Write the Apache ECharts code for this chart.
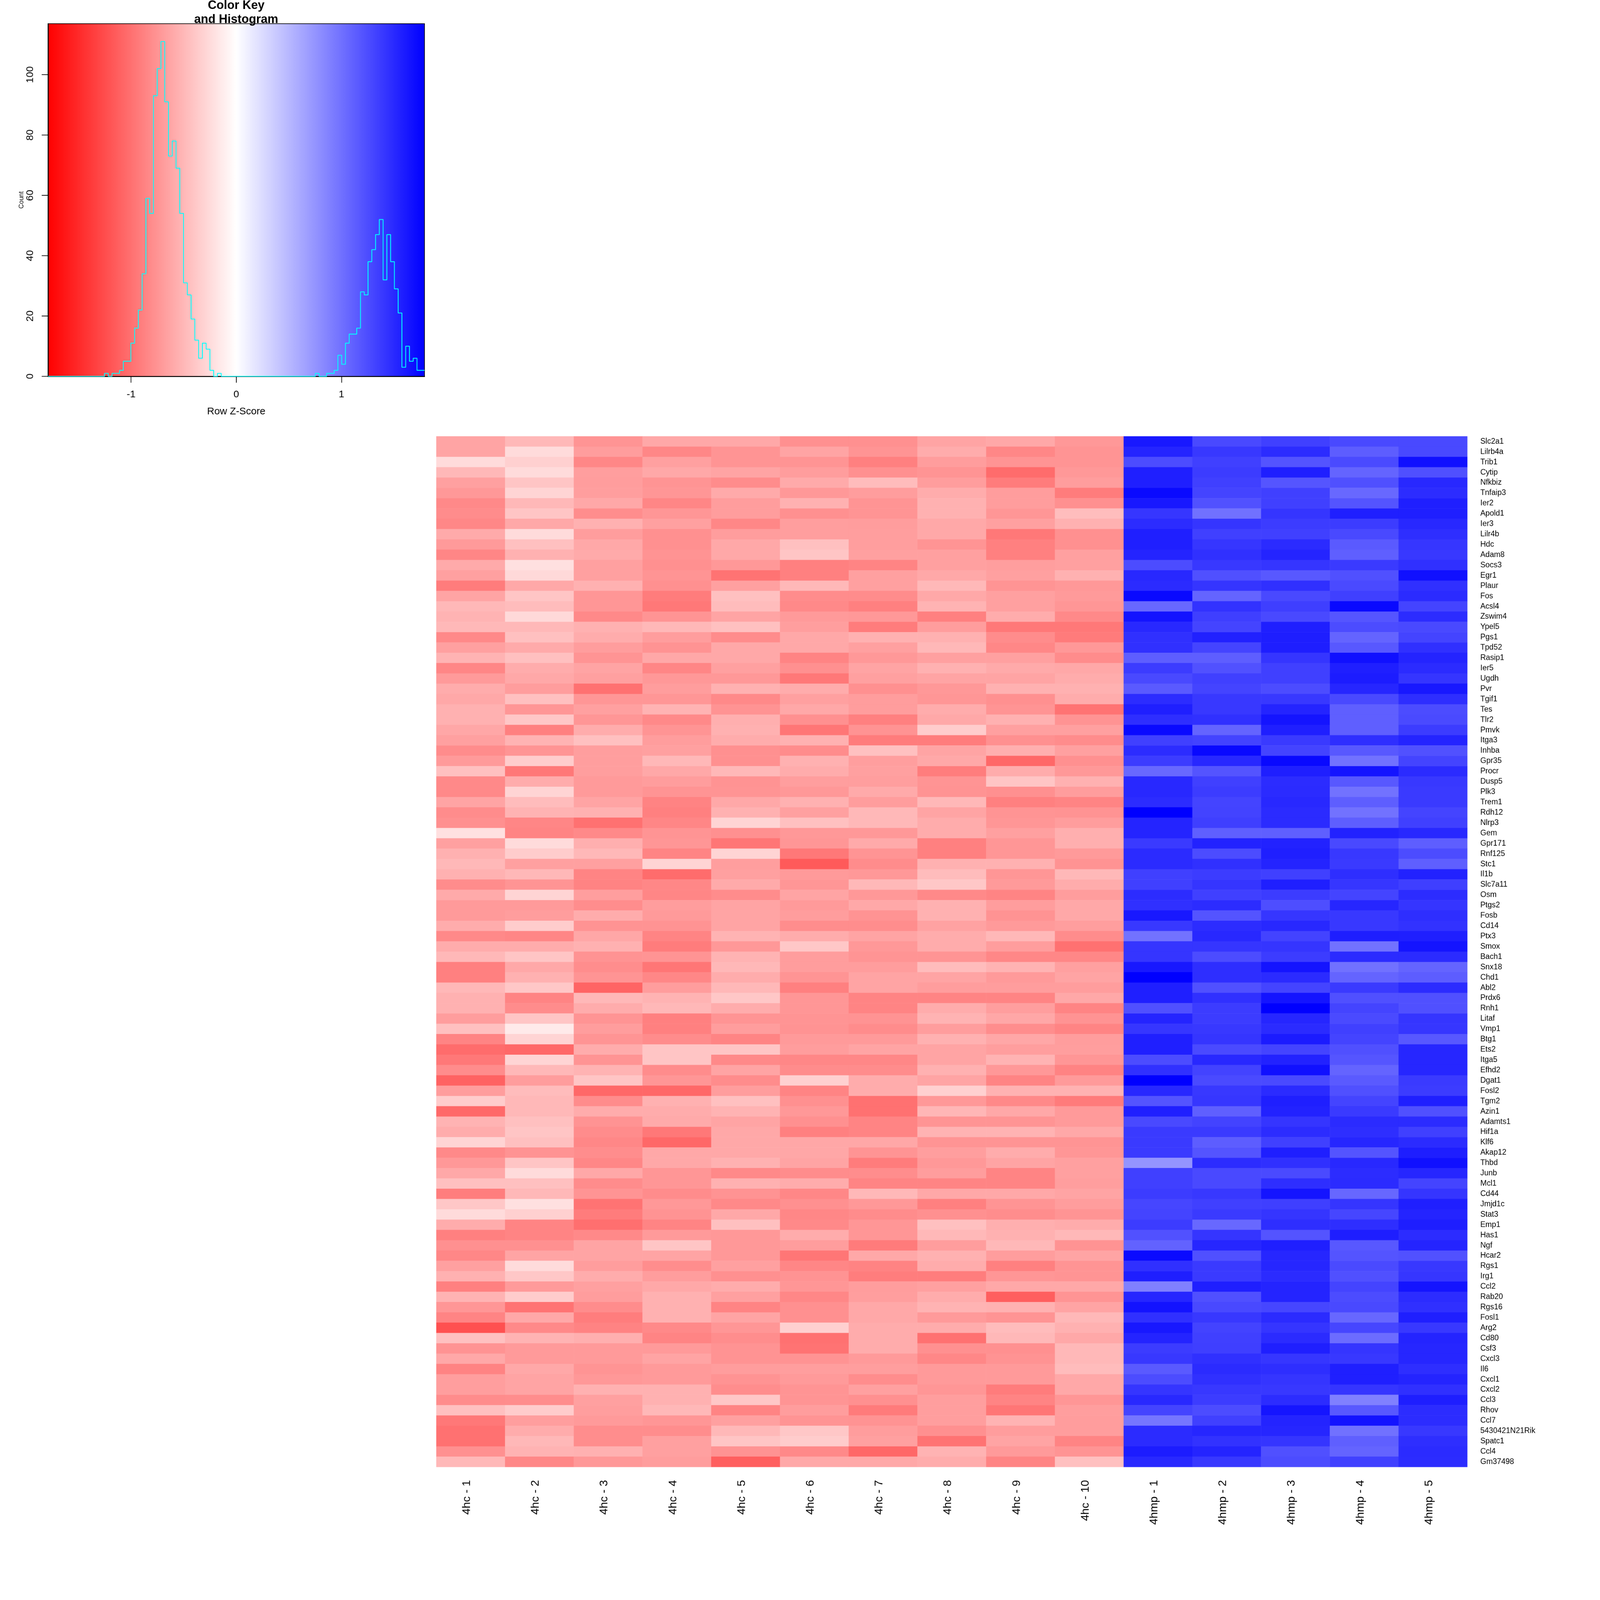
<!DOCTYPE html>
<html>
<head>
<meta charset="utf-8">
<style>html,body{margin:0;padding:0;background:#fff;overflow:hidden;width:100%;height:100%}#c{width:4800px;height:4800px;transform-origin:0 0}</style>
<script src="https://cdn.jsdelivr.net/npm/echarts@6/dist/echarts.min.js"></script>
</head>
<body>
<div id="c"></div>
<script>
const samples = ["4hc - 1","4hc - 2","4hc - 3","4hc - 4","4hc - 5","4hc - 6","4hc - 7","4hc - 8","4hc - 9","4hc - 10","4hmp - 1","4hmp - 2","4hmp - 3","4hmp - 4","4hmp - 5"];
const genes = ["Slc2a1","Lilrb4a","Trib1","Cytip","Nfkbiz","Tnfaip3","Ier2","Apold1","Ier3","Lilr4b","Hdc","Adam8","Socs3","Egr1","Plaur","Fos","Acsl4","Zswim4","Ypel5","Pgs1","Tpd52","Rasip1","Ier5","Ugdh","Pvr","Tgif1","Tes","Tlr2","Pmvk","Itga3","Inhba","Gpr35","Procr","Dusp5","Plk3","Trem1","Rdh12","Nlrp3","Gem","Gpr171","Rnf125","Stc1","Il1b","Slc7a11","Osm","Ptgs2","Fosb","Cd14","Ptx3","Smox","Bach1","Snx18","Chd1","Abl2","Prdx6","Rnh1","Litaf","Vmp1","Btg1","Ets2","Itga5","Efhd2","Dgat1","Fosl2","Tgm2","Azin1","Adamts1","Hif1a","Klf6","Akap12","Thbd","Junb","Mcl1","Cd44","Jmjd1c","Stat3","Emp1","Has1","Ngf","Hcar2","Rgs1","Irg1","Ccl2","Rab20","Rgs16","Fosl1","Arg2","Cd80","Csf3","Cxcl3","Il6","Cxcl1","Cxcl2","Ccl3","Rhov","Ccl7","5430421N21Rik","Spatc1","Ccl4","Gm37498"];
const zScores = [
[-.64,-.50,-.75,-.61,-.61,-.78,-.78,-.64,-.61,-.72,1.62,1.28,1.34,1.28,1.28],
[-.64,-.25,-.69,-.84,-.75,-.64,-.75,-.58,-.84,-.75,1.54,1.40,1.48,1.14,1.28],
[-.25,-.33,-.84,-.67,-.75,-.75,-.89,-.69,-.75,-.75,1.26,1.34,1.20,1.27,1.68],
[-.50,-.25,-.68,-.61,-.64,-.69,-.78,-.75,-1.03,-.72,1.57,1.37,1.57,1.09,1.23],
[-.67,-.41,-.69,-.75,-.81,-.60,-.47,-.69,-.92,-.69,1.57,1.34,1.19,1.23,1.51],
[-.72,-.30,-.68,-.74,-.60,-.72,-.69,-.58,-.69,-.92,1.72,1.31,1.34,1.06,1.48],
[-.83,-.50,-.61,-.85,-.69,-.55,-.75,-.55,-.69,-.78,1.62,1.22,1.34,1.20,1.57],
[-.81,-.41,-.80,-.74,-.69,-.78,-.75,-.55,-.74,-.46,1.41,1.00,1.42,1.57,1.57],
[-.84,-.61,-.55,-.67,-.84,-.68,-.69,-.61,-.67,-.55,1.48,1.42,1.37,1.37,1.51],
[-.60,-.25,-.69,-.78,-.69,-.68,-.68,-.61,-.95,-.78,1.57,1.34,1.34,1.28,1.47],
[-.71,-.44,-.61,-.78,-.61,-.44,-.68,-.75,-.89,-.78,1.57,1.41,1.49,1.16,1.41],
[-.85,-.55,-.60,-.76,-.61,-.41,-.67,-.67,-.89,-.67,1.54,1.45,1.54,1.12,1.40],
[-.60,-.22,-.67,-.78,-.72,-.89,-.86,-.67,-.68,-.67,1.26,1.40,1.42,1.38,1.45],
[-.67,-.27,-.67,-.75,-.98,-.89,-.67,-.61,-.67,-.55,1.51,1.23,1.17,1.23,1.68],
[-.92,-.61,-.55,-.78,-.67,-.50,-.67,-.50,-.75,-.72,1.49,1.42,1.45,1.27,1.45],
[-.64,-.41,-.74,-.92,-.44,-.81,-.81,-.61,-.67,-.71,1.73,1.09,1.28,1.34,1.49],
[-.50,-.47,-.74,-.95,-.47,-.83,-.89,-.53,-.67,-.74,1.06,1.44,1.35,1.73,1.31],
[-.53,-.27,-.83,-.75,-.64,-.71,-.72,-.89,-.58,-.83,1.66,1.35,1.28,1.19,1.48],
[-.50,-.50,-.55,-.50,-.44,-.68,-.92,-.69,-.95,-.95,1.51,1.31,1.57,1.26,1.28],
[-.83,-.44,-.58,-.69,-.81,-.61,-.55,-.55,-.81,-.93,1.45,1.56,1.58,1.09,1.31],
[-.67,-.60,-.69,-.76,-.61,-.61,-.67,-.50,-.84,-.72,1.45,1.31,1.58,1.17,1.45],
[-.53,-.44,-.75,-.61,-.61,-.86,-.72,-.67,-.67,-.81,1.13,1.13,1.42,1.68,1.54],
[-.85,-.58,-.64,-.85,-.67,-.78,-.64,-.55,-.60,-.61,1.37,1.22,1.34,1.57,1.49],
[-.71,-.61,-.67,-.72,-.72,-.95,-.67,-.64,-.64,-.58,1.28,1.34,1.34,1.59,1.42],
[-.58,-.69,-1.00,-.69,-.55,-.58,-.78,-.72,-.55,-.55,1.16,1.31,1.26,1.52,1.62],
[-.61,-.44,-.74,-.74,-.83,-.67,-.69,-.74,-.78,-.58,1.48,1.40,1.40,1.28,1.47],
[-.55,-.74,-.67,-.53,-.76,-.61,-.69,-.58,-.75,-.98,1.57,1.40,1.54,1.12,1.26],
[-.55,-.39,-.74,-.83,-.56,-.78,-.89,-.61,-.55,-.76,1.47,1.45,1.65,1.12,1.27],
[-.62,-.89,-.58,-.75,-.55,-.96,-.76,-.36,-.67,-.67,1.73,1.09,1.57,1.12,1.37],
[-.67,-.53,-.44,-.69,-.58,-.55,-.92,-.92,-.78,-.81,1.34,1.32,1.38,1.47,1.54],
[-.81,-.75,-.68,-.67,-.78,-.81,-.44,-.64,-.56,-.67,1.48,1.73,1.31,1.17,1.22],
[-.71,-.36,-.68,-.50,-.78,-.55,-.68,-.61,-1.06,-.78,1.37,1.51,1.73,.99,1.31],
[-.44,-.95,-.68,-.61,-.50,-.58,-.67,-.91,-.58,-.72,1.06,1.20,1.57,1.65,1.49],
[-.83,-.58,-.71,-.69,-.76,-.68,-.68,-.75,-.41,-.55,1.51,1.34,1.48,1.17,1.40],
[-.83,-.30,-.71,-.75,-.75,-.72,-.60,-.76,-.78,-.69,1.51,1.37,1.49,.99,1.38],
[-.64,-.47,-.64,-.87,-.61,-.55,-.69,-.50,-.89,-.86,1.48,1.31,1.51,1.13,1.38],
[-.81,-.53,-.55,-.89,-.55,-.67,-.50,-.64,-.75,-.76,1.79,1.32,1.49,.99,1.31],
[-.78,-.85,-1.00,-.85,-.30,-.44,-.50,-.58,-.74,-.69,1.54,1.35,1.49,1.13,1.34],
[-.22,-.86,-.83,-.75,-.78,-.72,-.72,-.58,-.67,-.56,1.54,1.12,1.12,1.55,1.51],
[-.67,-.25,-.56,-.74,-.96,-.74,-.60,-.89,-.74,-.56,1.38,1.55,1.55,1.28,1.13],
[-.55,-.36,-.50,-.86,-.30,-.95,-.75,-.89,-.74,-.71,1.49,1.26,1.57,1.40,1.26],
[-.50,-.67,-.67,-.30,-.68,-1.16,-.81,-.55,-.55,-.76,1.49,1.45,1.54,1.38,1.12],
[-.55,-.50,-.86,-1.03,-.67,-.71,-.72,-.47,-.74,-.50,1.34,1.37,1.34,1.47,1.55],
[-.81,-.75,-.87,-.84,-.60,-.74,-.50,-.39,-.71,-.58,1.34,1.42,1.57,1.41,1.35],
[-.60,-.30,-.68,-.85,-.81,-.64,-.72,-.83,-.86,-.69,1.48,1.34,1.37,1.31,1.48],
[-.71,-.71,-.80,-.69,-.64,-.71,-.61,-.55,-.69,-.61,1.45,1.48,1.24,1.52,1.42],
[-.71,-.69,-.58,-.71,-.64,-.69,-.76,-.55,-.76,-.61,1.62,1.20,1.41,1.40,1.47],
[-.58,-.36,-.76,-.76,-.64,-.80,-.80,-.65,-.71,-.68,1.40,1.48,1.51,1.40,1.44],
[-.83,-.85,-.62,-.86,-.53,-.58,-.64,-.58,-.50,-.81,.99,1.51,1.32,1.58,1.57],
[-.58,-.58,-.55,-.92,-.72,-.39,-.72,-.58,-.69,-1.00,1.42,1.42,1.42,.99,1.65],
[-.50,-.41,-.76,-.75,-.53,-.69,-.75,-.75,-.84,-.84,1.42,1.26,1.37,1.49,1.49],
[-.89,-.61,-.80,-.96,-.50,-.69,-.69,-.47,-.53,-.67,1.62,1.47,1.65,1.00,1.09],
[-.89,-.55,-.75,-.84,-.58,-.75,-.64,-.64,-.71,-.64,1.79,1.47,1.49,1.09,1.14],
[-.50,-.39,-1.09,-.69,-.50,-.89,-.64,-.69,-.69,-.69,1.57,1.23,1.31,1.38,1.49],
[-.55,-.86,-.50,-.53,-.39,-.74,-.86,-.86,-.86,-.61,1.57,1.45,1.65,1.23,1.23],
[-.55,-.81,-.58,-.50,-.58,-.74,-.86,-.58,-.68,-.86,1.23,1.37,1.79,1.31,1.23],
[-.69,-.41,-.75,-.89,-.75,-.75,-.76,-.53,-.62,-.76,1.54,1.37,1.52,1.27,1.42],
[-.44,-.15,-.69,-.89,-.69,-.76,-.81,-.69,-.80,-.86,1.41,1.40,1.49,1.34,1.41],
[-.86,-.30,-.75,-.81,-.86,-.71,-.71,-.55,-.62,-.69,1.57,1.42,1.60,1.31,1.17],
[-1.03,-1.06,-.58,-.41,-.41,-.69,-.64,-.64,-.68,-.68,1.57,1.27,1.31,1.23,1.52],
[-.95,-.30,-.75,-.41,-.83,-.84,-.84,-.64,-.53,-.74,1.26,1.51,1.55,1.19,1.52],
[-.81,-.50,-.53,-.81,-.64,-.81,-.81,-.55,-.72,-.87,1.45,1.32,1.68,1.09,1.52],
[-1.10,-.69,-.41,-.74,-.81,-.33,-.58,-.64,-.86,-.71,1.79,1.27,1.27,1.16,1.38],
[-.69,-.47,-1.06,-1.06,-.69,-.86,-.58,-.33,-.54,-.54,1.51,1.40,1.49,1.23,1.37],
[-.36,-.50,-.81,-.55,-.44,-.78,-1.00,-.72,-.83,-.93,1.20,1.41,1.57,1.31,1.57],
[-1.05,-.50,-.58,-.58,-.53,-.72,-1.00,-.51,-.61,-.71,1.57,1.12,1.55,1.38,1.23],
[-.53,-.44,-.76,-.60,-.64,-.78,-.86,-.75,-.75,-.71,1.28,1.32,1.42,1.49,1.49],
[-.58,-.41,-.81,-.95,-.61,-.89,-.86,-.53,-.53,-.61,1.38,1.38,1.48,1.47,1.34],
[-.30,-.44,-.84,-1.06,-.61,-.62,-.62,-.75,-.75,-.75,1.38,1.14,1.34,1.52,1.49],
[-.83,-.76,-.80,-.61,-.61,-.62,-.75,-.68,-.58,-.74,1.38,1.20,1.57,1.20,1.58],
[-.72,-.41,-.84,-.61,-.55,-.64,-.92,-.72,-.64,-.67,.75,1.48,1.45,1.51,1.68],
[-.61,-.25,-.61,-.74,-.83,-.81,-.80,-.69,-.86,-.67,1.34,1.28,1.27,1.48,1.52],
[-.44,-.44,-.81,-.74,-.55,-.58,-.86,-.86,-.86,-.68,1.34,1.28,1.47,1.49,1.31],
[-.91,-.50,-.75,-.81,-.76,-.84,-.50,-.61,-.61,-.64,1.37,1.40,1.65,1.07,1.42],
[-.39,-.22,-.98,-.72,-.83,-.78,-.72,-.89,-.75,-.69,1.30,1.34,1.35,1.42,1.57],
[-.25,-.33,-.92,-.76,-.61,-.84,-.81,-.78,-.80,-.75,1.31,1.38,1.42,1.30,1.54],
[-.58,-.86,-1.01,-.86,-.44,-.83,-.74,-.44,-.56,-.58,1.37,1.06,1.47,1.47,1.58],
[-.89,-.86,-.83,-.71,-.72,-.58,-.74,-.50,-.55,-.50,1.22,1.42,1.20,1.58,1.48],
[-.78,-.78,-.64,-.41,-.72,-.69,-.93,-.69,-.50,-.76,1.10,1.52,1.57,1.17,1.54],
[-.84,-.64,-.64,-.64,-.72,-.96,-.61,-.55,-.69,-.64,1.72,1.23,1.52,1.20,1.22],
[-.67,-.25,-.69,-.80,-.67,-.85,-.87,-.58,-.89,-.75,1.45,1.38,1.52,1.27,1.40],
[-.55,-.39,-.58,-.69,-.78,-.76,-.91,-.91,-.74,-.75,1.57,1.38,1.49,1.23,1.41],
[-.89,-.71,-.67,-.61,-.58,-.74,-.69,-.67,-.61,-.61,.89,1.57,1.54,1.31,1.65],
[-.53,-.36,-.69,-.55,-.67,-.84,-.68,-.58,-1.12,-.75,1.52,1.23,1.54,1.26,1.48],
[-.74,-.98,-.81,-.55,-.86,-.78,-.61,-.53,-.55,-.64,1.66,1.28,1.30,1.28,1.45],
[-.86,-.61,-.91,-.55,-.64,-.78,-.61,-.71,-.75,-.50,1.45,1.40,1.49,1.07,1.57],
[-1.23,-.83,-.87,-.83,-.74,-.33,-.58,-.58,-.47,-.55,1.62,1.32,1.42,1.30,1.40],
[-.44,-.53,-.56,-.86,-.80,-1.00,-.58,-1.00,-.50,-.61,1.54,1.34,1.49,1.03,1.54],
[-.76,-.71,-.71,-.71,-.76,-.98,-.58,-.78,-.78,-.50,1.37,1.35,1.57,1.42,1.52],
[-.61,-.71,-.71,-.64,-.76,-.76,-.71,-.84,-.76,-.50,1.40,1.45,1.41,1.40,1.52],
[-.87,-.61,-.75,-.71,-.69,-.68,-.68,-.71,-.71,-.47,1.16,1.49,1.47,1.57,1.47],
[-.68,-.64,-.72,-.71,-.76,-.71,-.80,-.71,-.71,-.61,1.26,1.45,1.42,1.57,1.54],
[-.68,-.64,-.55,-.55,-.80,-.75,-.67,-.74,-.92,-.61,1.42,1.40,1.40,1.42,1.45],
[-.81,-.80,-.67,-.55,-.39,-.75,-.78,-.68,-.86,-.74,1.51,1.37,1.48,.89,1.58],
[-.44,-.36,-.68,-.50,-.86,-.69,-.93,-.68,-.96,-.68,1.31,1.26,1.64,1.17,1.48],
[-.95,-.68,-.71,-.74,-.67,-.75,-.76,-.68,-.53,-.69,.96,1.34,1.54,1.66,1.48],
[-1.00,-.58,-.80,-.80,-.50,-.39,-.69,-.78,-.69,-.69,1.49,1.52,1.52,1.00,1.40],
[-1.00,-.50,-.80,-.67,-.41,-.36,-.67,-.98,-.64,-.86,1.49,1.44,1.42,1.12,1.47],
[-.78,-.53,-.55,-.67,-.76,-.83,-1.06,-.53,-.71,-.75,1.59,1.54,1.23,1.09,1.49],
[-.50,-.84,-.72,-.69,-1.12,-.61,-.61,-.58,-.86,-.44,1.51,1.40,1.26,1.34,1.48]
];
const histMin = -1.79;
const histMax = 1.79;
const histCounts = [0,0,0,0,0,0,0,0,0,0,0,0,0,0,0,1,0,1,1,2,5,5,11,16,22,34,59,54,93,102,111,91,73,78,69,54,31,27,19,12,6,11,9,2,0,1,0,0,0,0,0,0,0,0,0,0,0,0,0,0,0,0,0,0,0,0,0,0,0,0,0,1,0,0,1,1,2,7,4,11,14,14,16,28,27,38,42,47,52,32,47,38,29,21,3,10,5,6,2,2];
const xTickValues = [-1,0,1];
const yTickValues = [0,20,40,60,80,100];

const FONT = '"Liberation Sans", Arial, Helvetica, sans-serif';
const binWidth = (histMax - histMin) / histCounts.length;
const histLine = histCounts.map((c, i) => [histMin + i * binWidth, c]);
histLine.push([histMax, histCounts[histCounts.length - 1]]);
const cells = [];
zScores.forEach((row, r) => row.forEach((z, c) => cells.push([c, r, z])));

const host = document.getElementById('c');
const fit = window.innerWidth / 4800;
if (fit !== 1) host.style.transform = 'scale(' + fit + ')';
const chart = echarts.init(host, null, {renderer: 'canvas', devicePixelRatio: 1, width: 4800, height: 4800});
chart.setOption({
  animation: false,
  backgroundColor: '#ffffff',
  textStyle: {fontFamily: FONT},
  title: {
    text: 'Color Key\nand Histogram',
    left: 708.5, top: -4, textAlign: 'center', padding: 0, z: 20,
    textStyle: {fontFamily: FONT, fontSize: 36, fontWeight: 'bold', color: '#000', lineHeight: 42}
  },
  visualMap: {
    type: 'continuous', show: false, seriesIndex: 1, dimension: 2,
    min: histMin, max: histMax,
    inRange: {color: ['#ff0000', '#ffffff', '#0000ff']}
  },
  grid: [
    {left: 144, top: 71, width: 1129.5, height: 1058, show: true, borderWidth: 2, borderColor: '#000',
     backgroundColor: {type: 'linear', x: 0, y: 0, x2: 1, y2: 0, colorStops: [
       {offset: 0, color: '#ff0000'}, {offset: 0.5, color: '#ffffff'}, {offset: 1, color: '#0000ff'}]}},
    {left: 1309, top: 1309, width: 3093, height: 3092, show: false}
  ],
  xAxis: [
    {type: 'value', gridIndex: 0, min: histMin, max: histMax,
     name: 'Row Z-Score', nameLocation: 'middle', nameGap: 91,
     nameTextStyle: {fontFamily: FONT, fontSize: 30, color: '#000'},
     axisLine: {show: true, onZero: false, lineStyle: {color: '#000', width: 3}},
     axisTick: {show: true, length: 19, customValues: xTickValues, lineStyle: {color: '#000', width: 2}},
     axisLabel: {show: true, customValues: xTickValues, margin: 40, fontSize: 30, color: '#000', fontFamily: FONT},
     splitLine: {show: false}},
    {type: 'category', gridIndex: 1, data: samples, position: 'bottom',
     axisLine: {show: false}, axisTick: {show: false}, splitLine: {show: false},
     axisLabel: {interval: 0, rotate: 90, margin: 39, fontSize: 34, color: '#000', fontFamily: FONT, verticalAlign: 'bottom', lineHeight: 23}}
  ],
  yAxis: [
    {type: 'value', gridIndex: 0, min: 0, max: 116.9,
     name: 'Count', nameLocation: 'middle', nameGap: 66, nameRotate: 90,
     nameTextStyle: {fontFamily: FONT, fontSize: 19.5, color: '#000'},
     axisLine: {show: true, onZero: false, lineStyle: {color: '#000', width: 3}},
     axisTick: {show: true, length: 19, customValues: yTickValues, lineStyle: {color: '#000', width: 2}},
     axisLabel: {show: true, customValues: yTickValues, rotate: 90, margin: 38, fontSize: 30, color: '#000', fontFamily: FONT},
     splitLine: {show: false}},
    {type: 'category', gridIndex: 1, data: genes, inverse: true, position: 'right',
     axisLine: {show: false}, axisTick: {show: false}, splitLine: {show: false},
     axisLabel: {interval: 0, margin: 39, fontSize: 23, color: '#000', fontFamily: FONT, padding: [4, 0, 0, 0]}}
  ],
  series: [
    {type: 'line', name: 'Count', xAxisIndex: 0, yAxisIndex: 0, data: histLine, step: 'end',
     showSymbol: false, symbol: 'none', clip: true, silent: true, z: 5,
     lineStyle: {color: '#00ffff', width: 2.5}},
    {type: 'heatmap', name: 'Row Z-Score', xAxisIndex: 1, yAxisIndex: 1, data: cells,
     progressive: 0, silent: true, itemStyle: {borderWidth: 0}, emphasis: {disabled: true}}
  ]
});
</script>
</body>
</html>
